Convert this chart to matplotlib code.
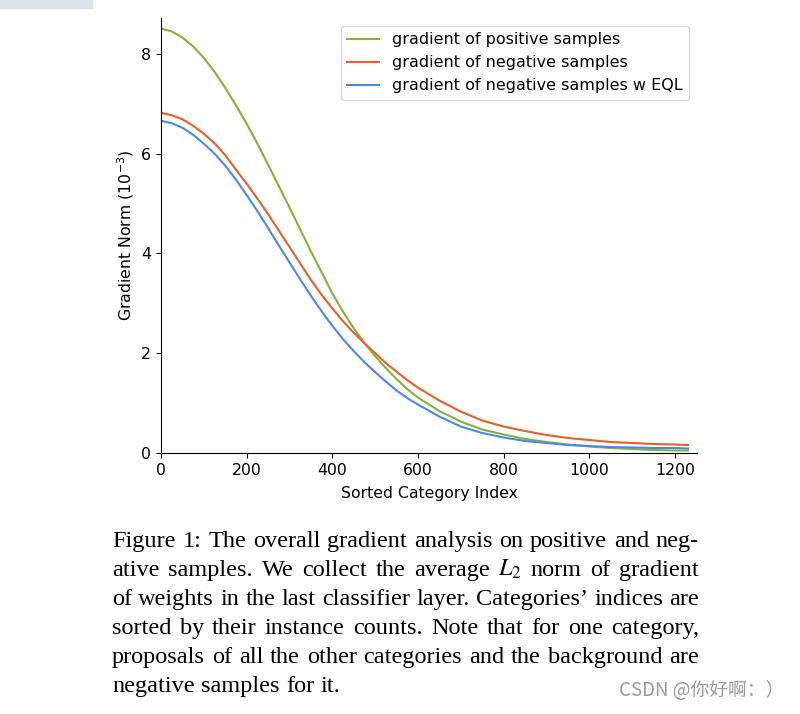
import numpy as np
import matplotlib
matplotlib.use("Agg")
import matplotlib.pyplot as plt
from matplotlib.patches import Rectangle

# 读取数据 (gradient norm in 1e-3)
idx = [0, 25, 50, 75, 100, 125, 150, 175, 200, 225, 250, 275, 300, 325, 350,
       375, 400, 425, 450, 475, 500, 525, 550, 575, 600, 650, 700, 750, 800,
       850, 900, 950, 1000, 1050, 1100, 1150, 1200, 1230]
grad_pos = [8.51, 8.45, 8.33, 8.15, 7.92, 7.64, 7.32, 6.97, 6.60, 6.20, 5.78,
            5.35, 4.92, 4.48, 4.04, 3.62, 3.20, 2.83, 2.50, 2.20, 1.94, 1.70,
            1.48, 1.28, 1.11, 0.84, 0.63, 0.47, 0.37, 0.28, 0.22, 0.17, 0.13,
            0.10, 0.08, 0.06, 0.05, 0.05]
grad_neg = [6.82, 6.77, 6.69, 6.56, 6.40, 6.21, 5.97, 5.68, 5.40, 5.10, 4.79,
            4.46, 4.13, 3.80, 3.47, 3.17, 2.90, 2.64, 2.41, 2.20, 2.00, 1.80,
            1.63, 1.46, 1.31, 1.05, 0.83, 0.65, 0.53, 0.44, 0.36, 0.30, 0.26,
            0.22, 0.20, 0.18, 0.17, 0.16]
grad_neg_eql = [6.66, 6.61, 6.52, 6.38, 6.20, 6.00, 5.76, 5.48, 5.17, 4.85,
                4.51, 4.16, 3.82, 3.48, 3.15, 2.84, 2.55, 2.28, 2.04, 1.82,
                1.62, 1.43, 1.25, 1.10, 0.97, 0.73, 0.53, 0.40, 0.31, 0.24,
                0.20, 0.16, 0.14, 0.12, 0.11, 0.10, 0.10, 0.09]
labels = ['gradient of positive samples', 'gradient of negative samples',
          'gradient of negative samples w EQL']
colors = ['#86b03c', '#e5602a', '#4c8ae0']

caption = [
    "Figure 1: The overall gradient analysis on positive and neg-",
    "ative samples.  We collect the average $L_2$ norm of gradient",
    "of weights in the last classifier layer. Categories’ indices are",
    "sorted by their instance counts. Note that for one category,",
    "proposals of all the other categories and the background are",
    "negative samples for it.",
]

W, H = 800, 714
fig = plt.figure(figsize=(W / 100, H / 100), dpi=100)
ax = fig.add_axes([161 / W, 1 - 453 / H, (697 - 161) / W, (453 - 18) / H])

for ys, lab, c in zip([grad_pos, grad_neg, grad_neg_eql], labels, colors):
    ax.plot(idx, ys, color=c, lw=1.5, label=lab)

ax.set_xlim(0, 1251)
ax.set_ylim(0, 8.72)
ax.set_xticks([0, 200, 400, 600, 800, 1000, 1200])
ax.set_yticks([0, 2, 4, 6, 8])
ax.tick_params(labelsize=11.3)
ax.spines['top'].set_visible(False)
ax.spines['right'].set_visible(False)
ax.set_xlabel('Sorted Category Index', fontsize=11.3, labelpad=6)
ax.set_ylabel('Gradient Norm ($10^{-3}$)', fontsize=11.3)
ax.legend(loc='upper right', fontsize=11.5, bbox_to_anchor=(1.0, 1.0))

# caption, justified like the LaTeX source
left, right = 112, 699
r = fig.canvas.get_renderer()
for i, line in enumerate(caption):
    y = 547 + 29 * i
    words = line.split()
    texts = [fig.text(0, 0, w, fontsize=17.5, family='Liberation Serif',
                      math_fontfamily='stix', va='baseline') for w in words]
    widths = [t.get_window_extent(r).width for t in texts]
    if i == len(caption) - 1:
        gap = 6.5
    else:
        gap = (right - left - sum(widths)) / (len(words) - 1)
    x = left
    for t, w in zip(texts, widths):
        t.set_position((x / W, 1 - y / H))
        x += w + gap

# page bits around the screenshot
fig.patches.append(Rectangle((0, 1 - 8 / H), 92 / W, 8 / H, transform=fig.transFigure,
                             color='#dce3ea', zorder=0))
fig.text(784 / W, 1 - 691 / H, 'CSDN @你好啊：）', fontsize=13.5, color='#9a9a9a',
         ha='right', va='center', family=['Noto Sans CJK SC', 'DejaVu Sans'])

fig.savefig('out.png', dpi=100)
